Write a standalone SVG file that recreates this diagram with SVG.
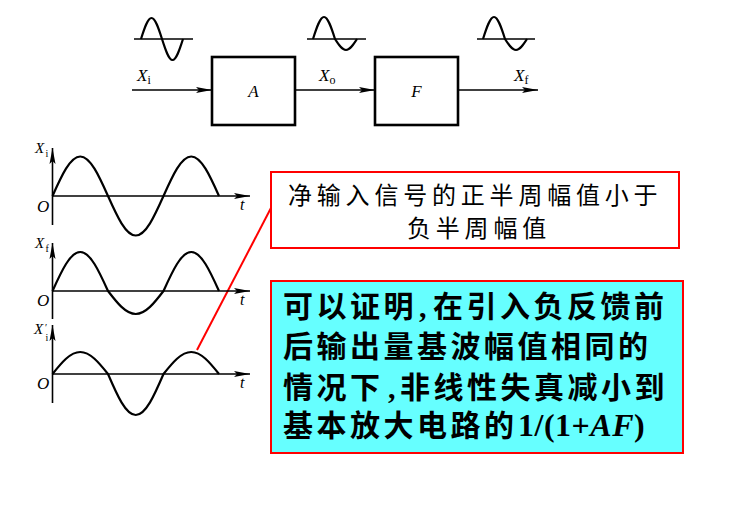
<svg xmlns="http://www.w3.org/2000/svg" width="731" height="506" viewBox="0 0 731 506">
<style>
.wave{fill:none;stroke:#000;stroke-width:2.2}
.ax{fill:none;stroke:#000;stroke-width:1.6}
.blk{fill:#fff;stroke:#000;stroke-width:2.6}
.ln{fill:none;stroke:#000;stroke-width:1.6}
.it{font-family:"Liberation Serif",serif;font-style:italic;fill:#000}
.sub{font-family:"Liberation Serif",serif;font-style:normal;fill:#000}
.cjk{font-family:"Noto Sans CJK SC",sans-serif;fill:#000}
.bold{font-family:"Noto Sans CJK SC",sans-serif;font-weight:bold;fill:#000}
.ser{font-family:"Liberation Serif",serif;font-weight:bold;fill:#000}
</style>
<defs>
<marker id="arr" markerUnits="userSpaceOnUse" markerWidth="18" markerHeight="8" refX="16" refY="4" orient="auto">
<path d="M0,1 L16,4 L0,7 L3,4 Z" fill="#000"/>
</marker>
</defs>
<rect width="731" height="506" fill="#fff"/>

<g id="small-waves">
<line class="ax" x1="134" y1="39" x2="193" y2="39"/>
<path class="wave" d="M141,39 c3.42,-10.76 6.70,-21 10.5,-21 c3.80,0 7.08,10.25 10.5,21 c3.42,10.76 6.70,21 10.5,21 c3.80,0 7.08,-10.25 10.5,-21"/>
<line class="ax" x1="307" y1="39" x2="366" y2="39"/>
<path class="wave" d="M313,39 c3.59,-11.26 7.02,-22 11,-22 c3.98,0 7.41,10.74 11,22 c3.59,5.63 7.02,11 11,11 c3.98,0 7.41,-5.37 11,-11"/>
<line class="ax" x1="477" y1="39" x2="535" y2="39"/>
<path class="wave" d="M483,39 c3.59,-11.26 7.02,-22 11,-22 c3.98,0 7.41,10.74 11,22 c3.59,5.63 7.02,11 11,11 c3.98,0 7.41,-5.37 11,-11"/>
</g>

<g id="connectors">
<line class="ln" x1="132" y1="90" x2="212" y2="90" marker-end="url(#arr)"/>
<line class="ln" x1="295" y1="90" x2="375" y2="90" marker-end="url(#arr)"/>
<line class="ln" x1="458" y1="90" x2="538" y2="90" marker-end="url(#arr)"/>
<line x1="197" y1="350" x2="272" y2="206" stroke="#f00" stroke-width="2"/>
</g>

<g id="labels-block">
<text class="it" x="137" y="81" font-size="17">X<tspan class="sub" font-size="12" dy="3">i</tspan></text>
<text class="it" x="319" y="81" font-size="17">X<tspan class="sub" font-size="12" dy="3">o</tspan></text>
<text class="it" x="514" y="81" font-size="17">X<tspan class="sub" font-size="12" dy="3">f</tspan></text>
</g>

<g id="block-A">
<rect class="blk" x="212" y="57" width="83" height="68"/>
<text class="it" x="253.5" y="97" font-size="17" text-anchor="middle">A</text>
</g>
<g id="block-F">
<rect class="blk" x="375" y="57" width="83" height="68"/>
<text class="it" x="416.5" y="97" font-size="17" text-anchor="middle">F</text>
</g>

<g id="graph-xi">
<line class="ax" x1="52.5" y1="225" x2="52.5" y2="148" marker-end="url(#arr)"/>
<line class="ax" x1="52.5" y1="196" x2="250" y2="196" marker-end="url(#arr)"/>
<path class="wave" d="M52.5,196 c9.05,-20.22 17.71,-39.5 27.75,-39.5 c10.04,0 18.7,19.28 27.75,39.5 c9.05,20.22 17.71,39.5 27.75,39.5 c10.04,0 18.7,-19.28 27.75,-39.5 c9.05,-20.22 17.71,-39.5 27.75,-39.5 c10.04,0 18.7,19.28 27.75,39.5"/>
<text class="it" x="35" y="153" font-size="15">X</text>
<text class="sub" x="45.5" y="157" font-size="10">i</text>
<text class="it" x="37" y="212" font-size="17">O</text>
<text class="it" x="240" y="210" font-size="16">t</text>
</g>

<g id="graph-xf">
<line class="ax" x1="52.5" y1="319" x2="52.5" y2="243" marker-end="url(#arr)"/>
<line class="ax" x1="52.5" y1="291" x2="250" y2="291" marker-end="url(#arr)"/>
<path class="wave" d="M52.5,291 c9.05,-19.97 17.71,-39 27.75,-39 c10.04,0 18.7,19.03 27.75,39 c9.05,11.78 17.71,23 27.75,23 c10.04,0 18.7,-11.22 27.75,-23 c9.05,-19.97 17.71,-39 27.75,-39 c10.04,0 18.7,19.03 27.75,39"/>
<text class="it" x="35" y="248" font-size="15">X</text>
<text class="sub" x="45.5" y="252" font-size="10">f</text>
<text class="it" x="37" y="306" font-size="17">O</text>
<text class="it" x="240" y="305" font-size="16">t</text>
</g>

<g id="graph-xi2">
<line class="ax" x1="52.5" y1="403" x2="52.5" y2="325" marker-end="url(#arr)"/>
<line class="ax" x1="52.5" y1="374" x2="250" y2="374" marker-end="url(#arr)"/>
<path class="wave" d="M52.5,374 c9.05,-11.26 17.71,-22 27.75,-22 c10.04,0 18.7,10.74 27.75,22 c9.05,20.99 17.71,41 27.75,41 c10.04,0 18.7,-20.01 27.75,-41 c9.05,-11.26 17.71,-22 27.75,-22 c10.04,0 18.7,10.74 27.75,22"/>
<text class="it" x="34" y="334" font-size="15">X</text>
<text class="sub" x="45" y="331" font-size="10">′</text>
<text class="sub" x="45.5" y="341" font-size="10">i</text>
<text class="it" x="37" y="389" font-size="17">O</text>
<text class="it" x="240" y="388" font-size="16">t</text>
</g>

<g id="note-1">
<rect x="271" y="172" width="408" height="76" fill="#fff" stroke="#f00" stroke-width="2"/>
<text class="cjk" font-size="24" letter-spacing="4.8"><tspan x="288" y="204">净输入信号的正半周幅值小于</tspan><tspan x="407" y="237">负半周幅值</tspan></text>
</g>

<g id="note-2">
<rect x="271" y="281" width="412" height="172" fill="#66ffff" stroke="#f00" stroke-width="2"/>
<text class="bold" font-size="30" letter-spacing="3.5" x="283" y="317">可以证明<tspan class="ser" x="419">,</tspan><tspan x="433">在引入负反馈前</tspan></text>
<text class="bold" font-size="30" letter-spacing="3.5" x="283" y="357">后输出量基波幅值相同的</text>
<text class="bold" font-size="30" letter-spacing="3.5" x="283" y="398">情况下<tspan class="ser" x="388">,</tspan><tspan x="400">非线性失真减小到</tspan></text>
<text class="bold" font-size="30" letter-spacing="3.5" x="283" y="436">基本放大电路的</text>
<text class="ser" x="518" y="436" font-size="32" letter-spacing="0.5">1/(1+<tspan font-style="italic">AF</tspan>)</text>
</g>
</svg>
